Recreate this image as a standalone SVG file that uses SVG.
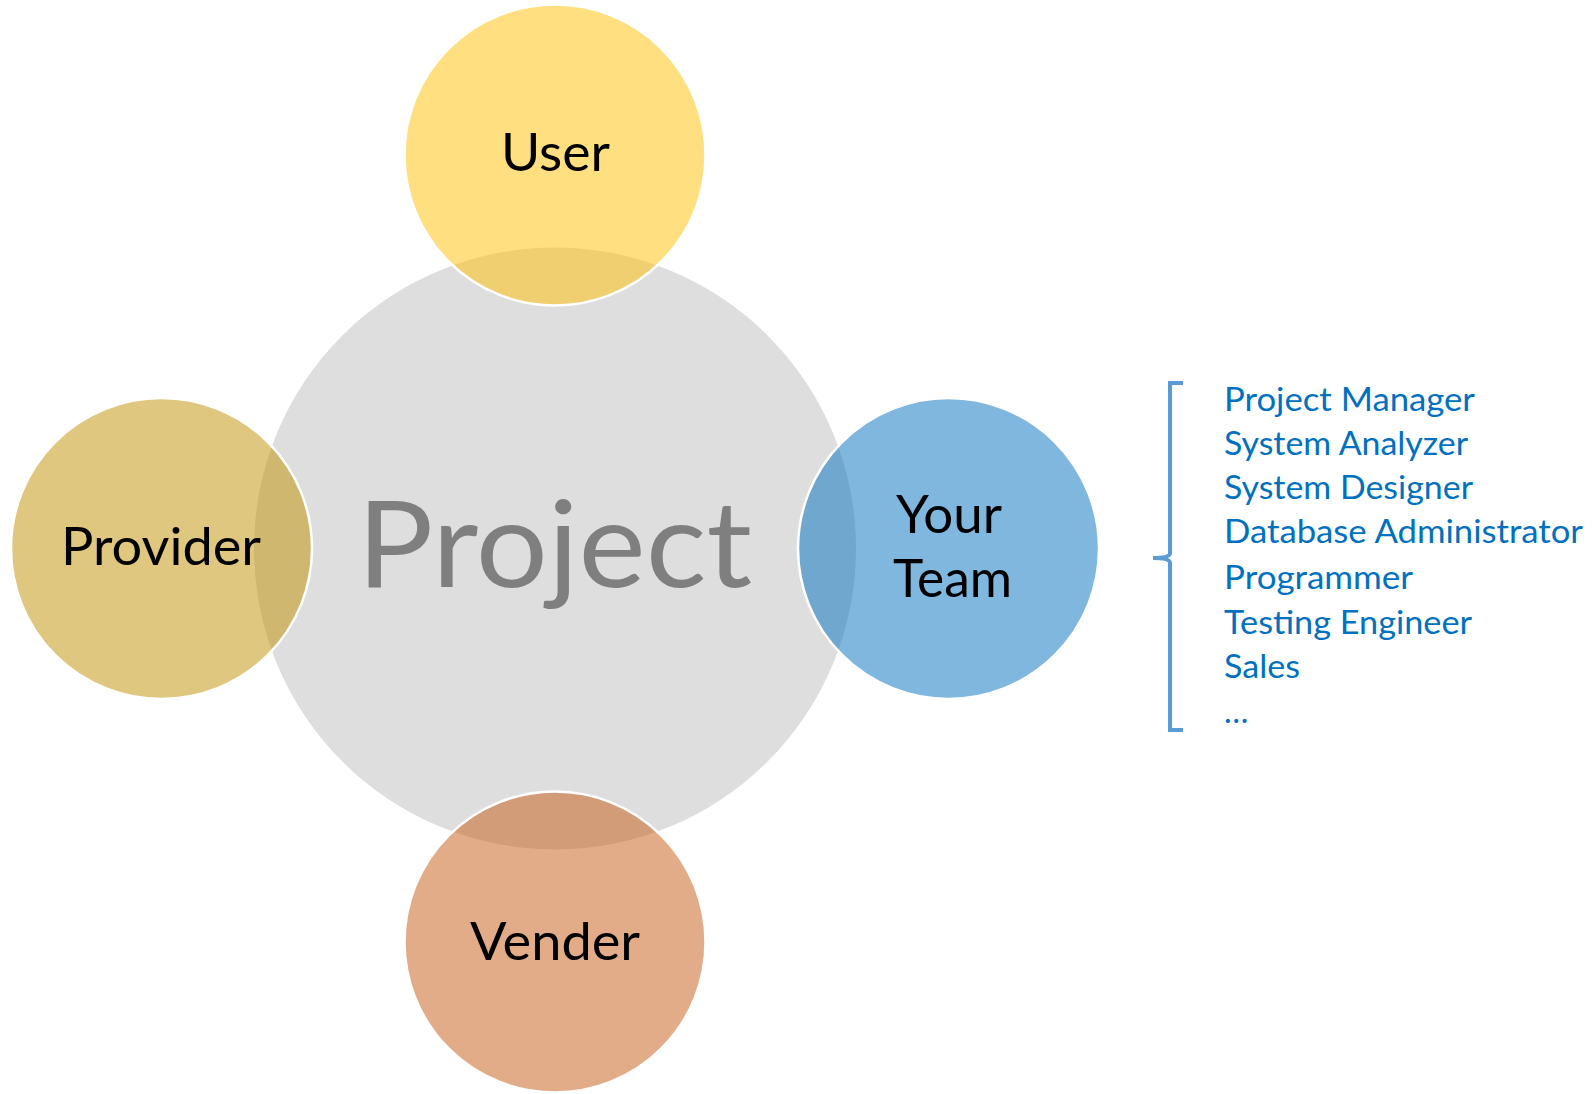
<svg xmlns="http://www.w3.org/2000/svg" width="1594" height="1094" viewBox="0 0 1594 1094">
<style>
.sat{stroke:#ffffff;stroke-width:2.5;fill-opacity:0.5}
.lbl{font-family:Lato,"Open Sans","Liberation Sans",sans-serif;font-size:53px;fill:#000000}
.lst{font-family:Lato,"Open Sans","Liberation Sans",sans-serif;font-size:32.5px;fill:#0070C0}
</style>
<rect width="1594" height="1094" fill="#ffffff"/>
<g id="project">
<circle cx="555" cy="548.5" r="301" fill="#DEDEDE"/>
<text x="357" y="587" font-family="Lato,'Open Sans','Liberation Sans',sans-serif" font-size="120" fill="#7F7F7F" textLength="395" lengthAdjust="spacingAndGlyphs">Project</text>
</g>
<g id="user">
<circle class="sat" cx="555" cy="155" r="150.5" fill="#FFC000"/>
<text class="lbl" x="501" y="171" textLength="109" lengthAdjust="spacingAndGlyphs">User</text>
</g>
<g id="provider">
<circle class="sat" cx="161.5" cy="548.5" r="150.5" fill="#BF9000"/>
<text class="lbl" x="61" y="565" textLength="200" lengthAdjust="spacingAndGlyphs">Provider</text>
</g>
<g id="your-team">
<circle class="sat" cx="948.5" cy="548.5" r="150.5" fill="#0070C0"/>
<text class="lbl" x="896" y="533" textLength="106" lengthAdjust="spacingAndGlyphs">Your</text>
<text class="lbl" x="893" y="597" textLength="119" lengthAdjust="spacingAndGlyphs">Team</text>
</g>
<g id="vender">
<circle class="sat" cx="555" cy="942" r="150.5" fill="#C55A11"/>
<text class="lbl" x="470" y="960" textLength="170" lengthAdjust="spacingAndGlyphs">Vender</text>
</g>
<g id="connectors">
<path d="M1183,383 H1170 V553 Q1170,558 1153,558 Q1170,558 1170,563 V730 H1183" fill="none" stroke="#5B9BD5" stroke-width="4"/>
</g>
<g id="team-list">
<text class="lst" x="1224" y="411" textLength="251" lengthAdjust="spacingAndGlyphs">Project Manager</text>
<text class="lst" x="1224" y="455" textLength="244" lengthAdjust="spacingAndGlyphs">System Analyzer</text>
<text class="lst" x="1224" y="499" textLength="249" lengthAdjust="spacingAndGlyphs">System Designer</text>
<text class="lst" x="1224" y="543" textLength="359" lengthAdjust="spacingAndGlyphs">Database Administrator</text>
<text class="lst" x="1224" y="589" textLength="189" lengthAdjust="spacingAndGlyphs">Programmer</text>
<text class="lst" x="1224" y="634" textLength="248" lengthAdjust="spacingAndGlyphs">Testing Engineer</text>
<text class="lst" x="1224" y="678" textLength="76" lengthAdjust="spacingAndGlyphs">Sales</text>
<text class="lst" x="1224" y="723">…</text>
</g>
</svg>
